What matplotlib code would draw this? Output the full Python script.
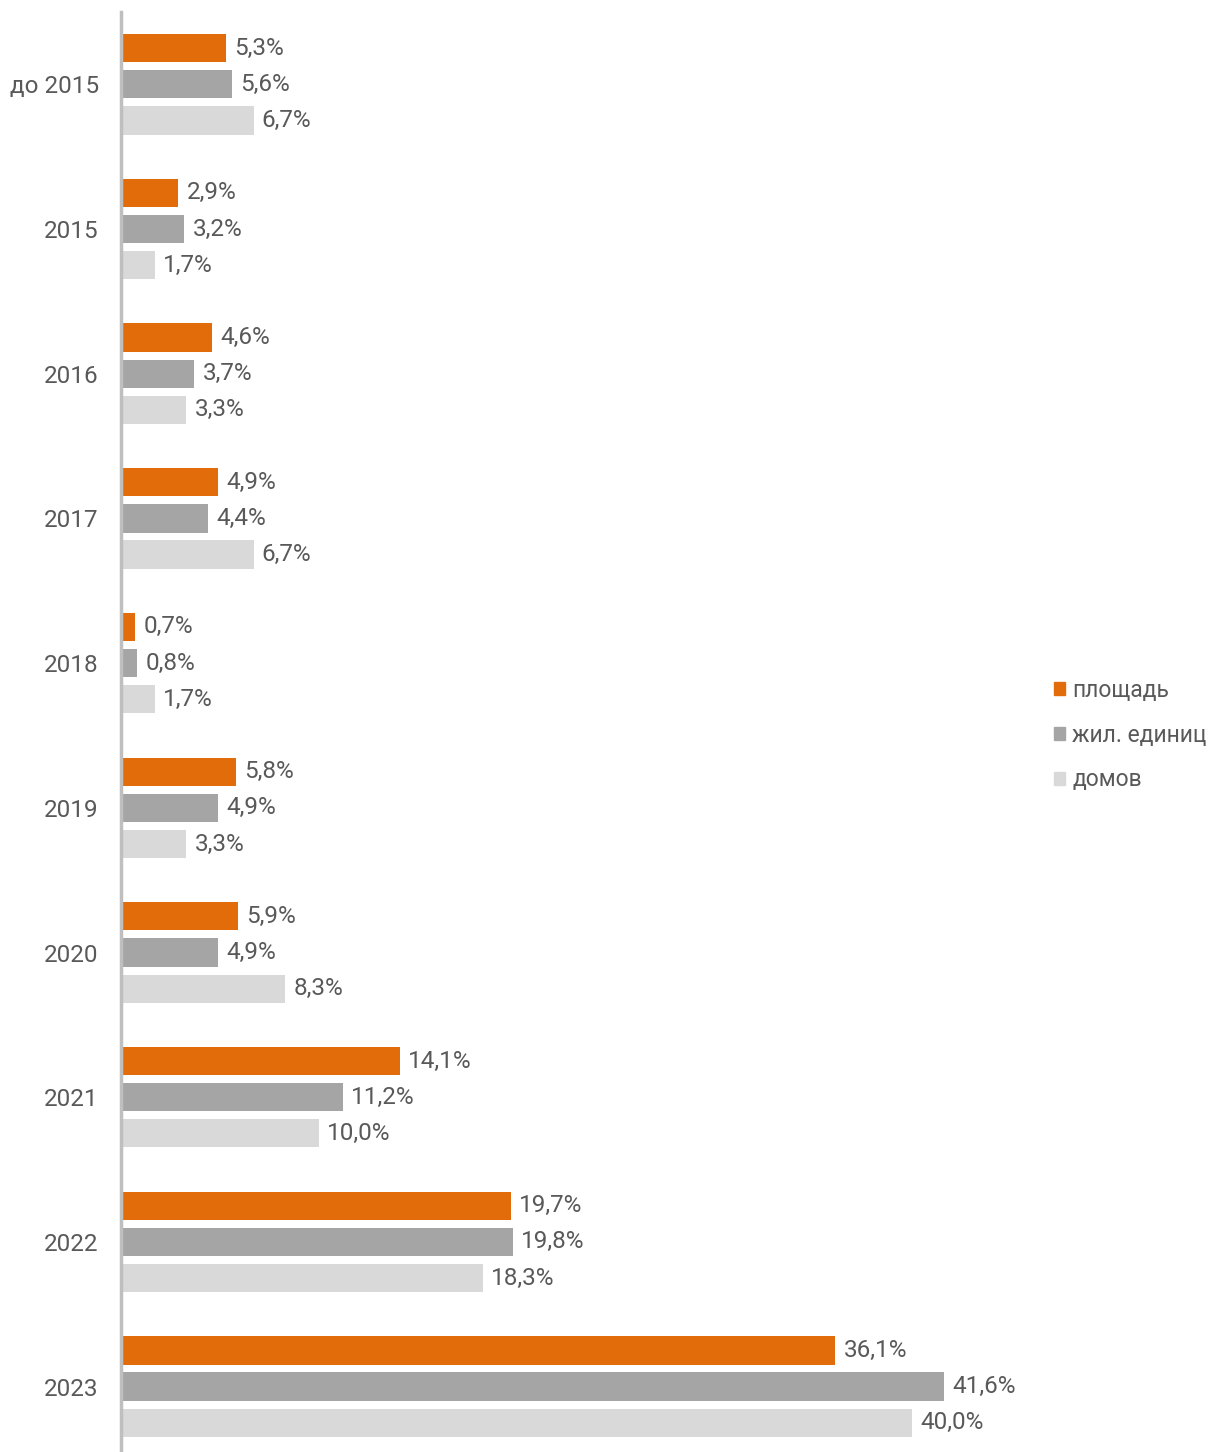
import numpy as np
import matplotlib.pyplot as plt
from matplotlib.patches import Patch

plt.rcParams['font.family'] = ['Roboto', 'DejaVu Sans']

categories = ['до 2015', '2015', '2016', '2017', '2018', '2019', '2020', '2021', '2022', '2023']
area = [5.3, 2.9, 4.6, 4.9, 0.7, 5.8, 5.9, 14.1, 19.7, 36.1]
units = [5.6, 3.2, 3.7, 4.4, 0.8, 4.9, 4.9, 11.2, 19.8, 41.6]
houses = [6.7, 1.7, 3.3, 6.7, 1.7, 3.3, 8.3, 10.0, 18.3, 40.0]

series = [('площадь', area, '#E36C0A'),
          ('жил. единиц', units, '#A5A5A5'),
          ('домов', houses, '#D9D9D9')]

fig = plt.figure(figsize=(12.16, 14.52), dpi=100)
ax = fig.add_axes([121 / 1216, 0.0, 910 / 1216, 1 - 12 / 1452])

y = np.arange(len(categories))
offsets = [-0.25, 0.0, 0.25]
txt_color = '#595959'
fs = 17.5

for (name, vals, col), off in zip(series, offsets):
    ax.barh(y + off, vals, height=0.195, color=col, label=name, zorder=2)
    for yi, v in zip(y, vals):
        ax.text(v + 0.42, yi + off, f'{v:.1f}%'.replace('.', ','),
                va='center', ha='left', fontsize=fs, color=txt_color)

ax.set_xlim(0, 46)
ax.set_ylim(9.452, -0.5)
ax.set_yticks(y)
ax.set_yticklabels(categories, fontsize=fs, color=txt_color)
ax.tick_params(axis='y', length=0, pad=16)
ax.set_xticks([])
for s in ['top', 'right', 'bottom']:
    ax.spines[s].set_visible(False)
ax.spines['left'].set_color('#BFBFBF')
ax.spines['left'].set_linewidth(2.5)
ax.spines['left'].set_zorder(3)

handles = [Patch(color=c, label=n) for n, _, c in series]
fig.legend(handles=handles, loc='center left', bbox_to_anchor=(1054 / 1216, 1 - 735 / 1452),
           frameon=False, fontsize=16.5, labelcolor=txt_color, borderpad=0, borderaxespad=0,
           handlelength=0.5, handleheight=0.5, handletextpad=0.3, labelspacing=0.95)

fig.savefig('out.png', dpi=100)
